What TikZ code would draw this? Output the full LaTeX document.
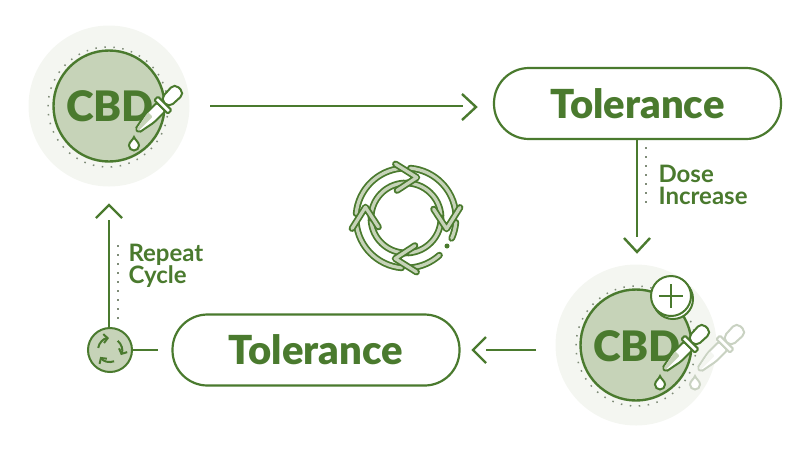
\documentclass[tikz,border=0pt]{standalone}
\usepackage{fontspec}
\setmainfont{Lato}[BoldFont={Lato Black}]
\newfontfamily\notefont{Lato}
\usepackage{tikz}
\usetikzlibrary{calc,positioning,arrows.meta}
\definecolor{leaf}{HTML}{4A7A2E}
\definecolor{pale}{HTML}{C6D3B8}
\definecolor{halo}{HTML}{F4F6F1}
\definecolor{speck}{HTML}{7F8C78}
\definecolor{ghost}{HTML}{C9D2C2}
\colorlet{dropline}{leaf}
\colorlet{dropfill}{pale}
\tikzstyle{halo} = [circle, minimum size=161pt, fill=halo, inner sep=0pt]
\tikzstyle{disc} = [circle, minimum size=111pt, fill=pale, draw=leaf, line width=2.4pt, inner sep=0pt]
\tikzstyle{speckle} = [speck, line width=1.5pt, dash pattern=on 1.5pt off 7.5pt]
\tikzstyle{pill} = [rectangle, rounded corners=35pt, minimum width=287pt, minimum height=71pt, text centered, draw=leaf, line width=2.2pt, font=\bfseries\fontsize{40}{40}\selectfont, text=leaf]
\tikzstyle{brand} = [font=\bfseries\fontsize{42}{42}\selectfont, text=leaf]
\tikzstyle{note} = [font=\notefont\bfseries\fontsize{24}{22}\selectfont, text=leaf, align=left, anchor=west]
\tikzstyle{arrow} = [leaf, line width=2.4pt]
\tikzstyle{band} = [draw=leaf, line width=1.8pt, double=pale, double distance=3.2pt, line cap=round, line join=round]
\tikzset{dropper/.pic={
	\draw[dropline, line width=2pt, fill=white, rounded corners=2pt] (3,-2.5) -- (21,-6) -- (37,-6) -- (37,6) -- (21,6) -- (3,2.5) -- cycle;
	\fill[dropfill, rounded corners=1pt] (4,-1.5) -- (21,-5) -- (24,-5) -- (24,1) -- (4,1) -- cycle;
	\draw[dropline, line width=2pt, fill=white, rounded corners=5.5pt] (42,-6) -- (63,-7) -- (63,7) -- (42,6) -- cycle;
	\draw[dropline, line width=2pt, fill=white, rounded corners=1pt] (37,-9.5) rectangle (42,9.5);
}, droplet/.pic={
	\draw[dropline, line width=2pt, fill=white] (0,-6) .. controls (1,-3) and (5,-1) .. (5,2.5) arc (0:180:5) .. controls (-5,-1) and (-1,-3) .. (0,-6) -- cycle;
}}

\begin{document}
\begin{tikzpicture}
		[x=1pt, y=-1pt]
		\useasboundingbox (0,0) rectangle (810,451);
		\node[halo] (halotop) at (109,106) {};
		\node[halo] (halolow) at (636,345) {};
		\draw[speckle] (108,107) circle (60);
		\draw[speckle] (636,346) circle (60);
		\node[disc] (disctop) at (109,106) {};
		\node[disc] (disclow) at (636,345) {};
		\node[brand] (cbdtop) at (110,106) {CBD};
		\node[brand] (cbdlow) at (637,346) {CBD};
		
		\pic[rotate=45] at (135,133) {dropper};
		\pic at (134,143) {droplet};
		\begin{scope}
			\colorlet{dropline}{ghost}
			\colorlet{dropfill}{halo}
			\pic[rotate=45] at (697,372) {dropper};
			\pic at (695,382) {droplet};
		\end{scope}
		\pic[rotate=45] at (662,372) {dropper};
		\pic at (660,382) {droplet};
		
		\node[circle, minimum size=40pt, fill=white, draw=leaf, line width=2pt, inner sep=0pt] (shadeplus) at (673,299) {};
		\node[circle, minimum size=40pt, fill=white, draw=leaf, line width=2pt, inner sep=0pt] (plus) at (671,296) {};
		\draw[leaf, line width=1.6pt] ($(plus)+(-12,0)$) -- ($(plus)+(12,0)$);
		\draw[leaf, line width=1.6pt] ($(plus)+(0,-12)$) -- ($(plus)+(0,12)$);
		
		\node[pill] (tolerancetop) at (637.5,103.5) {Tolerance};
		\node[pill] (tolerancelow) at (316,350) {Tolerance};
		\node[circle, minimum size=44pt, fill=pale, draw=leaf, line width=2pt, inner sep=0pt] (repeat) at (110,350) {};
		
		\coordinate (rightfrom) at (210,106);
		\coordinate (righttip) at (476,107);
		\coordinate (downtip) at (637,252);
		\coordinate (lefttip) at (473,350);
		\coordinate (leftfrom) at (536,350);
		\coordinate (uptip) at (109,205);
		\coordinate (repeatend) at (158,350);
		
		\draw[arrow] (rightfrom) -- ($(righttip)+(-13,-1)$);
		\draw[arrow] (462,94) -- (righttip) -- (462,120);
		\draw[arrow] (tolerancetop.south -| downtip) -- ($(downtip)+(0,-15)$);
		\draw[arrow] (624,238) -- (downtip) -- (650,238);
		\draw[arrow] (leftfrom) -- ($(lefttip)+(13,0)$);
		\draw[arrow] (486,337) -- (lefttip) -- (486,363);
		\draw[arrow] (repeat) -- (repeatend);
		\draw[arrow] (repeat.north -| uptip) -- ($(uptip)+(0,15)$);
		\draw[arrow] (96,218) -- (uptip) -- (122,218);
		
		\draw[speckle] (646,147) -- (646,208);
		\draw[speckle] (118,245) -- (118,323);
		\node[note] (dose) at (655,185) {Dose\\Increase};
		\node[note] (cycle) at (125,265.5) {Repeat\\Cycle};
		
		\begin{scope}[shift={(repeat)}, y=1pt]
			\foreach \a in {0,120,240}
			{
				\draw[leaf, line width=2pt, -{Straight Barb[length=4pt,width=9pt]}] (\a+170:12) arc (\a+170:\a+95:12);
			}
		\end{scope}
		
		\coordinate (cycles) at (406,218);
		\begin{scope}[shift={(cycles)}, y=1pt]
			\foreach \a in {0,-90,-180,-270}
			{
				\draw[band] (\a+90:35) arc (\a+90:\a+3:35);
			}
			\draw[band] (85:50) arc (85:5:50);
			\draw[band] (-5:50) arc (-5:-24:50);
			\draw[band] (-48:50) arc (-48:-85:50);
			\draw[band] (-95:50) arc (-95:-175:50);
			\draw[band] (-185:50) arc (-185:-265:50);
			\foreach \a in {0,-90,-180,-270}
			{
				\draw[band] (\a+108:29) -- (\a+75:42) -- (\a+101:55);
			}
		\end{scope}
		\node[circle, fill=leaf, minimum size=5pt, inner sep=0pt] (cycledot) at (447,246) {};
\end{tikzpicture}
\end{document}
